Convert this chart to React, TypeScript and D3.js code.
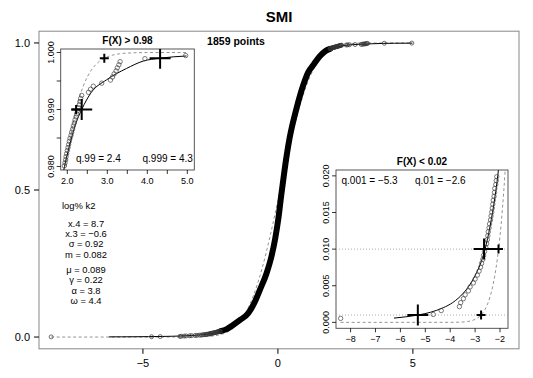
import React from "react";
import * as d3 from "d3";

type P = [number, number];

const TITLE = "SMI";
const N_LABEL = "1859 points";

// ECDF lower tail (F < 0.02): [x, F]
const lowerTail: P[] = [
  [-8.4, 0.00054], [-4.68, 0.00108], [-4.36, 0.00161], [-3.63, 0.00215], [-3.58, 0.00269],
  [-3.47, 0.00323], [-3.4, 0.00376], [-3.27, 0.0043], [-3.2, 0.00484], [-3.07, 0.00538],
  [-3.0, 0.00591], [-2.91, 0.00645], [-2.84, 0.00699], [-2.78, 0.00753], [-2.74, 0.00806],
  [-2.69, 0.0086], [-2.66, 0.00914], [-2.62, 0.00968], [-2.57, 0.01022], [-2.54, 0.01075],
  [-2.51, 0.01129], [-2.49, 0.01183], [-2.47, 0.01237], [-2.44, 0.0129], [-2.42, 0.01344],
  [-2.38, 0.01398], [-2.36, 0.01452], [-2.33, 0.01505], [-2.31, 0.01559], [-2.29, 0.01613],
  [-2.27, 0.01667], [-2.24, 0.0172], [-2.22, 0.01774], [-2.21, 0.01828], [-2.17, 0.01882],
  [-2.15, 0.01935], [-2.13, 0.01989],
];

// ECDF upper tail (F > 0.98): [x, F]
const upperTail: P[] = [
  [4.96, 0.99946], [3.94, 0.99892], [3.32, 0.99839], [3.29, 0.99785], [3.25, 0.99731],
  [3.22, 0.99677], [3.17, 0.99624], [3.13, 0.9957], [3.08, 0.99516], [2.86, 0.99462],
  [2.65, 0.99409], [2.58, 0.99355], [2.53, 0.99301], [2.36, 0.99247], [2.334, 0.99194],
  [2.318, 0.9914], [2.301, 0.99086], [2.276, 0.99032], [2.251, 0.98978], [2.234, 0.98925],
  [2.218, 0.98871], [2.193, 0.98817], [2.176, 0.98763], [2.151, 0.9871], [2.134, 0.98656],
  [2.109, 0.98602], [2.093, 0.98548], [2.068, 0.98495], [2.051, 0.98441], [2.034, 0.98387],
  [2.018, 0.98333], [2.001, 0.9828], [1.984, 0.98226], [1.968, 0.98172], [1.959, 0.98118],
  [1.943, 0.98065], [1.926, 0.98011],
];

// dense body of the ECDF (0.02 < F < 0.98), quantile knots
const ecdfBody: P[] = [
  [-2.13, 0.02], [-1.9, 0.027], [-1.66, 0.041], [-1.4, 0.058], [-1.1, 0.081], [-0.88, 0.115],
  [-0.67, 0.16], [-0.42, 0.217], [-0.25, 0.27], [-0.1, 0.335], [0.02, 0.405], [0.12, 0.48],
  [0.22, 0.55], [0.32, 0.615], [0.44, 0.68], [0.69, 0.778], [0.94, 0.857], [1.12, 0.9],
  [1.31, 0.925], [1.55, 0.955], [1.75, 0.972], [1.93, 0.98],
];

// fitted distribution (solid)
const fitCurve: P[] = [
  [-6.26, 0.00058], [-5.8, 0.00075], [-5.3, 0.001], [-4.8, 0.00137], [-4.28, 0.002],
  [-3.9, 0.0027], [-3.47, 0.004], [-3.2, 0.0052], [-2.94, 0.0068], [-2.75, 0.0083],
  [-2.6, 0.01], [-2.4, 0.0131], [-2.2, 0.0172], [-2.09, 0.02], [-1.9, 0.027], [-1.66, 0.041],
  [-1.4, 0.058], [-1.1, 0.081], [-0.88, 0.115], [-0.67, 0.16], [-0.42, 0.217], [-0.25, 0.27],
  [-0.1, 0.335], [0.02, 0.405], [0.12, 0.48], [0.22, 0.55], [0.32, 0.615], [0.44, 0.68],
  [0.69, 0.778], [0.94, 0.857], [1.12, 0.9], [1.31, 0.925], [1.55, 0.955], [1.75, 0.972],
  [1.93, 0.98], [2.05, 0.9835], [2.2, 0.9873], [2.36, 0.99], [2.6, 0.993], [2.98, 0.9952],
  [3.48, 0.9972], [3.9, 0.9985], [4.32, 0.999], [4.98, 0.99939],
];

// normal reference (dashed)
const normCurve: P[] = [
  [-8.4, 0], [-4.0, 0.000005], [-3.6, 0.000031], [-3.3, 0.000118], [-3.1, 0.000271],
  [-2.9, 0.000595], [-2.8, 0.000865], [-2.7, 0.00125], [-2.6, 0.00178], [-2.5, 0.0025],
  [-2.4, 0.00349], [-2.3, 0.00481], [-2.2, 0.00657], [-2.1, 0.00885], [-2.0, 0.0118],
  [-1.9, 0.0156], [-1.8, 0.0204], [-1.7, 0.0264], [-1.5, 0.0427], [-1.2, 0.0818],
  [-0.9, 0.143], [-0.6, 0.229], [-0.3, 0.339], [0.0, 0.4645], [0.3, 0.5937], [0.6, 0.7133],
  [0.9, 0.813], [1.2, 0.8879], [1.5, 0.9384], [1.8, 0.9691], [1.9, 0.97592], [2.0, 0.9815],
  [2.1, 0.98585], [2.2, 0.98934], [2.3, 0.99204], [2.4, 0.99413], [2.5, 0.99571],
  [2.6, 0.9969], [2.7, 0.99779], [2.8, 0.99843], [2.9, 0.9989], [3.0, 0.99924],
  [3.15, 0.99957], [3.3, 0.99977], [3.6, 0.99993], [4.0, 0.99999], [4.98, 1.0],
];

// quantile markers
const fitQuantUpper: P[] = [[2.36, 0.99], [4.32, 0.999]];
const normQuantUpper: P[] = [[2.22, 0.99], [2.925, 0.999]];
const fitQuantLower: P[] = [[-5.3, 0.001], [-2.64, 0.01]];
const normQuantLower: P[] = [[-2.76, 0.001], [-2.06, 0.01]];
const lowerRefLevels = [0.001, 0.01];

const mainXTicks = [-5, 0, 5];
const mainYTicks = [0, 0.5, 1];
const upXTicks = [2, 2.5, 3, 3.5, 4, 4.5, 5];
const upXLabels = [2, 3, 4, 5];
const upYTicks = [0.98, 0.985, 0.99, 0.995, 1.0];
const upYLabels = [0.98, 0.99, 1.0];
const loXTicks = [-8, -7, -6, -5, -4, -3, -2];
const loYTicks = [0, 0.005, 0.01, 0.015, 0.02];

const upQText = ["q.99 = 2.4", "q.999 = 4.3"];
const loQText = ["q.001 = \u22125.3", "q.01 = \u22122.6"];
const paramHead = "log% k2";
const paramBlock1 = ["x.4 = 8.7", "x.3 = \u22120.6", "\u03c3 = 0.92", "m = 0.082"];
const paramBlock2 = ["\u03bc = 0.089", "\u03b3 = 0.22", "\u03b1 = 3.8", "\u03c9 = 4.4"];

const FONT = "Liberation Sans, Arial, Helvetica, sans-serif";
const minus = (v: number, f: (n: number) => string) => (v < 0 ? "\u2212" + f(-v) : f(v));

export default function App() {
  const W = 533, H = 378;
  // main panel
  const mL = 39, mR = 519, mT = 31.2, mB = 348.8;
  const xM = d3.scaleLinear().domain([-8.85, 8.93]).range([mL, mR]);
  const yM = d3.scaleLinear().domain([-0.04, 1.04]).range([mB, mT]);
  // upper-left inset
  const uL = 60.7, uR = 194.3, uT = 49, uB = 170;
  const xU = d3.scaleLinear().domain([1.835, 5.175]).range([uL, uR]);
  const yU = d3.scaleLinear().domain([0.979386, 1.000614]).range([uB, uT]);
  // lower-right inset
  const lL = 336, lR = 508, lT = 170, lB = 328.3;
  const xL = d3.scaleLinear().domain([-8.586, -1.679]).range([lL, lR]);
  const yL = d3.scaleLinear().domain([-0.00081, 0.0208]).range([lB, lT]);

  const mk = (xs: d3.ScaleLinear<number, number>, ys: d3.ScaleLinear<number, number>) =>
    d3.line<P>().x((d) => xs(d[0])).y((d) => ys(d[1])).curve(d3.curveMonotoneX);

  const lineM = mk(xM, yM), lineU = mk(xU, yU), lineL = mk(xL, yL);
  const allPts = [...lowerTail, ...upperTail];

  const plus = (x: number, y: number, h: number, key: string) => (
    <g key={key} stroke="#000" strokeWidth={2}>
      <line x1={x - h} x2={x + h} y1={y} y2={y} />
      <line x1={x} x2={x} y1={y - h} y2={y + h} />
    </g>
  );

  const f3 = (n: number) => n.toFixed(3);
  const f1 = (n: number) => n.toFixed(1);
  const pf = 9.4, ps = 10.4;

  return (
    <svg width={W} height={H} style={{ display: "block", position: "absolute", left: 0, top: 0 }} fontFamily={FONT}>
      <rect x={0} y={0} width={W} height={H} fill="#fff" />
      <defs>
        <clipPath id="cm"><rect x={mL} y={mT} width={mR - mL} height={mB - mT} /></clipPath>
        <clipPath id="cu"><rect x={uL} y={uT} width={uR - uL} height={uB - uT} /></clipPath>
        <clipPath id="cl"><rect x={lL} y={lT} width={lR - lL} height={lB - lT} /></clipPath>
      </defs>

      {/* title */}
      <text x={(mL + mR) / 2} y={22} textAnchor="middle" fontSize={15} fontWeight="bold">{TITLE}</text>

      {/* main panel */}
      <g clipPath="url(#cm)">
        <path d={lineM(normCurve) || ""} fill="none" stroke="#888" strokeWidth={0.9} strokeDasharray="3,2.5" />
        <path d={lineM(fitCurve) || ""} fill="none" stroke="#000" strokeWidth={1} />
        <path d={lineM(ecdfBody) || ""} fill="none" stroke="#000" strokeWidth={6} strokeLinecap="round" strokeLinejoin="round" />
        {allPts.map((d, i) => (
          <circle key={i} cx={xM(d[0])} cy={yM(d[1])} r={2} fill="none" stroke="#333" strokeWidth={0.7} />
        ))}
      </g>
      <rect x={mL} y={mT} width={mR - mL} height={mB - mT} fill="none" stroke="#888" strokeWidth={1} />
      {mainXTicks.map((t) => (
        <g key={"mx" + t}>
          <line x1={xM(t)} x2={xM(t)} y1={mB} y2={mB + 5} stroke="#000" />
          <text x={xM(t)} y={mB + 18} textAnchor="middle" fontSize={11}>{minus(t, (n) => String(n))}</text>
        </g>
      ))}
      {mainYTicks.map((t) => (
        <g key={"my" + t}>
          <line x1={mL - 5} x2={mL} y1={yM(t)} y2={yM(t)} stroke="#000" />
          <text x={mL - 9} y={yM(t) + 4} textAnchor="end" fontSize={11}>{t.toFixed(1)}</text>
        </g>
      ))}
      <text x={236} y={44.5} textAnchor="middle" fontSize={10.5} fontWeight="bold">{N_LABEL}</text>

      {/* parameters */}
      <text x={62} y={208.5} fontSize={pf}>{paramHead}</text>
      {paramBlock1.map((s, i) => (
        <text key={"pa" + i} x={86} y={226.5 + i * ps} textAnchor="middle" fontSize={pf}>{s}</text>
      ))}
      {paramBlock2.map((s, i) => (
        <text key={"pb" + i} x={86} y={272.8 + i * ps} textAnchor="middle" fontSize={pf}>{s}</text>
      ))}

      {/* upper inset */}
      <rect x={uL} y={uT} width={uR - uL} height={uB - uT} fill="#fff" stroke="#444" strokeWidth={0.9} />
      <text x={(uL + uR) / 2} y={43.5} textAnchor="middle" fontSize={10} fontWeight="bold">F(X) &gt; 0.98</text>
      <g clipPath="url(#cu)">
        <path d={lineU(normCurve) || ""} fill="none" stroke="#888" strokeWidth={0.9} strokeDasharray="3,2.5" />
        <path d={lineU(fitCurve) || ""} fill="none" stroke="#000" strokeWidth={1} />
        {upperTail.map((d, i) => (
          <circle key={i} cx={xU(d[0])} cy={yU(d[1])} r={2.2} fill="none" stroke="#444" strokeWidth={0.7} />
        ))}
        {fitQuantUpper.map((d, i) => plus(xU(d[0]), yU(d[1]), 10.5, "fu" + i))}
        {normQuantUpper.map((d, i) => plus(xU(d[0]), yU(d[1]), 4.5, "nu" + i))}
      </g>
      <text x={76} y={162} fontSize={10}>{upQText[0]}</text>
      <text x={142.5} y={162} fontSize={10}>{upQText[1]}</text>
      {upXTicks.map((t) => (
        <line key={"ux" + t} x1={xU(t)} x2={xU(t)} y1={uB} y2={uB + 4} stroke="#000" strokeWidth={0.8} />
      ))}
      {upXLabels.map((t) => (
        <text key={"uxl" + t} x={xU(t)} y={184} textAnchor="middle" fontSize={9}>{f1(t)}</text>
      ))}
      {upYTicks.map((t) => (
        <line key={"uy" + t} x1={uL - 4} x2={uL} y1={yU(t)} y2={yU(t)} stroke="#000" strokeWidth={0.8} />
      ))}
      {upYLabels.map((t) => (
        <text key={"uyl" + t} transform={`translate(${uL - 7},${yU(t)}) rotate(-90)`} textAnchor="middle" fontSize={9}>{f3(t)}</text>
      ))}

      {/* lower inset */}
      <rect x={lL} y={lT} width={lR - lL} height={lB - lT} fill="#fff" stroke="#444" strokeWidth={0.9} />
      <text x={(lL + lR) / 2} y={165} textAnchor="middle" fontSize={10} fontWeight="bold">F(X) &lt; 0.02</text>
      <g clipPath="url(#cl)">
        {lowerRefLevels.map((v) => (
          <line key={"rl" + v} x1={lL} x2={lR} y1={yL(v)} y2={yL(v)} stroke="#999" strokeWidth={0.8} strokeDasharray="1,2" />
        ))}
        <path d={lineL(normCurve) || ""} fill="none" stroke="#888" strokeWidth={0.9} strokeDasharray="3,2.5" />
        <path d={lineL(fitCurve) || ""} fill="none" stroke="#000" strokeWidth={1} />
        {lowerTail.map((d, i) => (
          <circle key={i} cx={xL(d[0])} cy={yL(d[1])} r={2.2} fill="none" stroke="#444" strokeWidth={0.7} />
        ))}
        {fitQuantLower.map((d, i) => plus(xL(d[0]), yL(d[1]), 10.5, "fl" + i))}
        {normQuantLower.map((d, i) => plus(xL(d[0]), yL(d[1]), 4.5, "nl" + i))}
      </g>
      <text x={341.5} y={184} fontSize={10}>{loQText[0]}</text>
      <text x={415} y={184} fontSize={10}>{loQText[1]}</text>
      {loXTicks.map((t) => (
        <g key={"lx" + t}>
          <line x1={xL(t)} x2={xL(t)} y1={lB} y2={lB + 4} stroke="#000" strokeWidth={0.8} />
          <text x={xL(t)} y={341.5} textAnchor="middle" fontSize={9}>{minus(t, (n) => String(n))}</text>
        </g>
      ))}
      {loYTicks.map((t) => (
        <g key={"ly" + t}>
          <line x1={lL - 4} x2={lL} y1={yL(t)} y2={yL(t)} stroke="#000" strokeWidth={0.8} />
          <text transform={`translate(${lL - 7},${yL(t)}) rotate(-90)`} textAnchor="middle" fontSize={9}>{f3(t)}</text>
        </g>
      ))}
    </svg>
  );
}
